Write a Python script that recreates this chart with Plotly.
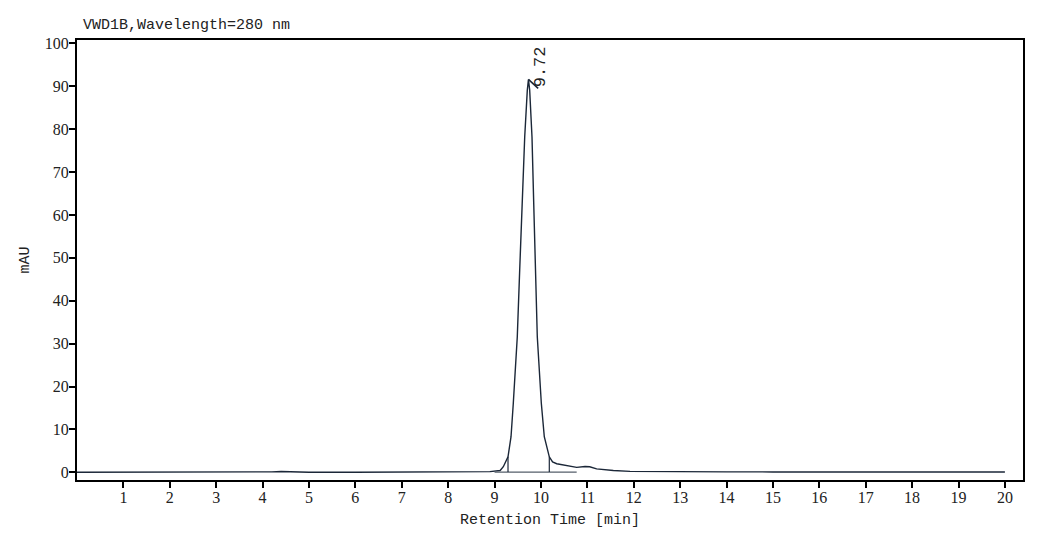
import numpy as np
import plotly.graph_objects as go

# Chromatogram signal (retention time in min, absorbance in mAU)
rt = [0, 1, 2, 3, 4, 4.2, 4.4, 4.6, 5, 6, 7, 7.5, 8, 8.5, 8.9, 9.12, 9.189, 9.29,
      9.355, 9.404, 9.49, 9.542, 9.598, 9.65, 9.706, 9.73, 9.757, 9.807, 9.844,
      9.887, 9.921, 10.008, 10.072, 10.18, 10.25, 10.34, 10.56, 10.77, 10.95,
      11.05, 11.2, 11.56, 11.92, 12.5, 13, 14, 15, 16, 17, 17.7, 18, 19, 20]
mau = [0.0, 0.0, 0.0, 0.0, 0.02, 0.1, 0.18, 0.1, 0.02, 0.0, 0.02, 0.05, 0.08, 0.1, 0.15, 0.4, 1.3, 3.6,
       8.3, 16.1, 31.6, 47.2, 62.7, 78.2, 89.1, 91.6, 89.1, 78.2, 62.7,
       47.2, 31.6, 16.1, 8.3, 3.6, 2.4, 2.0, 1.5, 1.15, 1.35,
       1.3, 0.8, 0.4, 0.2, 0.14, 0.12, 0.1, 0.08, 0.06, 0.05, 0.1, 0.06, 0.05, 0.05]

# Peak integration info
peak_label = "9.72"
peak_rt = 9.73
peak_start = 9.29
peak_end = 10.18
baseline_from = 9.0
baseline_to = 10.77
baseline_level = 0.05

x_ticks = list(range(1, 21))
y_ticks = list(range(0, 101, 10))

title_text = "VWD1B,Wavelength=280 nm"
x_title = "Retention Time [min]"
y_title = "mAU"

line_color = "#1b2738"
mono = "Liberation Mono"
serif = "Liberation Serif"

peak_height = float(np.interp(peak_rt, rt, mau))
start_h = float(np.interp(peak_start, rt, mau))
end_h = float(np.interp(peak_end, rt, mau))

fig = go.Figure()
fig.add_trace(go.Scatter(x=rt, y=mau, mode="lines",
                         line=dict(color=line_color, width=1.4), hoverinfo="skip"))
# integration baseline
fig.add_trace(go.Scatter(x=[baseline_from, baseline_to], y=[baseline_level, baseline_level],
                         mode="lines", line=dict(color="#555e6a", width=1.2)))
# drop lines
fig.add_trace(go.Scatter(x=[peak_start, peak_start, None, peak_end, peak_end],
                         y=[baseline_level, start_h, None, baseline_level, end_h],
                         mode="lines", line=dict(color=line_color, width=1.2)))
# apex tick
fig.add_trace(go.Scatter(x=[peak_rt, peak_rt + 0.21], y=[peak_height, peak_height - 2.1],
                         mode="lines", line=dict(color=line_color, width=1.6)))

fig.add_annotation(x=peak_rt + 0.26, y=peak_height - 2.3, text=peak_label, textangle=-90,
                   showarrow=False, xanchor="center", yanchor="bottom",
                   font=dict(family=mono, size=17, color="#222"))

fig.add_annotation(xref="paper", yref="paper", x=0.004, y=1.0, yshift=15,
                   text=title_text, showarrow=False, xanchor="left", yanchor="middle",
                   font=dict(family=mono, size=15, color="#222"))

fig.update_layout(
    width=1062, height=541,
    margin=dict(l=69, r=47, t=32, b=69),
    paper_bgcolor="white", plot_bgcolor="white",
    showlegend=False,
)
fig.update_xaxes(range=[0, 20.39], tickvals=x_ticks, ticks="outside", ticklen=6,
                 tickwidth=1.5, tickcolor="black", showline=True, linecolor="black",
                 linewidth=2, mirror=True, showgrid=False, zeroline=False, automargin=False,
                 ticklabelstandoff=-4,
                 tickfont=dict(family=serif, size=16, color="#222"),
                 title=dict(text=x_title, font=dict(family=mono, size=15, color="#222"), standoff=8))
fig.update_yaxes(range=[-1.8, 100.8], tickvals=y_ticks, ticks="outside", ticklen=6,
                 tickwidth=1.5, tickcolor="black", showline=True, linecolor="black",
                 linewidth=2, mirror=True, showgrid=False, zeroline=False, automargin=False,
                 ticklabelstandoff=-3,
                 tickfont=dict(family=serif, size=16, color="#222"),
                 title=dict(text=y_title, font=dict(family=mono, size=15, color="#222"), standoff=12))

fig.write_html("out.html")
